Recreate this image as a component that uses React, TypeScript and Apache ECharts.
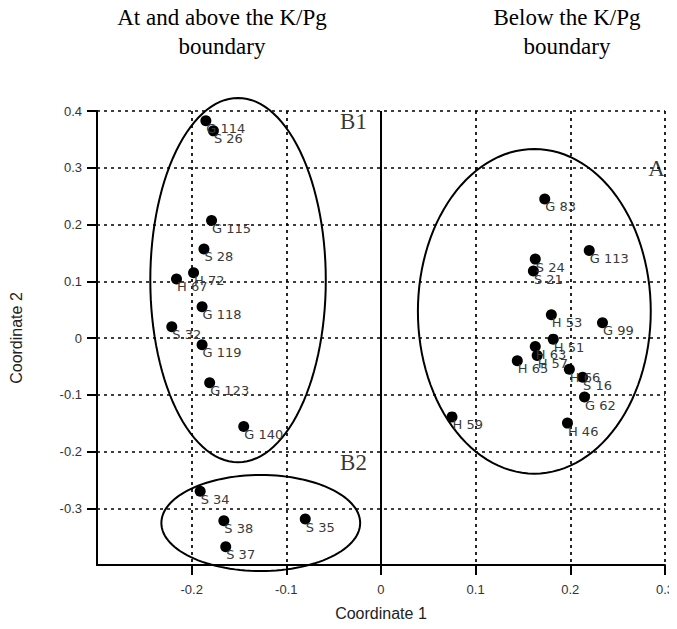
import React, { useEffect, useRef } from "react";
import * as echarts from "echarts";

// Sample names and PCoA coordinates
const names = [
  "G 114", "S 26", "G 115", "S 28", "H 72", "H 67", "G 118", "S 32", "G 119", "G 123", "G 140",
  "S 34", "S 38", "S 35", "S 37",
  "G 83", "G 113", "S 24", "S 21", "H 53", "G 99", "H 51", "H 63", "H 57", "H 65", "H 66", "S 16", "G 62", "H 59", "H 46",
];
const coord1 = [
  -0.185, -0.177, -0.179, -0.187, -0.198, -0.216, -0.189, -0.221, -0.189, -0.181, -0.145,
  -0.191, -0.166, -0.080, -0.164,
  0.173, 0.220, 0.163, 0.161, 0.180, 0.234, 0.182, 0.163, 0.165, 0.144, 0.199, 0.213, 0.215, 0.075, 0.197,
];
const coord2 = [
  0.383, 0.365, 0.207, 0.157, 0.115, 0.104, 0.055, 0.020, -0.012, -0.079, -0.156,
  -0.270, -0.322, -0.319, -0.368,
  0.245, 0.154, 0.139, 0.118, 0.041, 0.027, -0.002, -0.015, -0.031, -0.040, -0.055, -0.069, -0.104, -0.139, -0.150,
];

// Group ellipses: centre x, centre y, radius x, radius y (data units)
const ellipseNames = ["B1", "B2", "A"];
const ellipseCx = [-0.151, -0.127, 0.162];
const ellipseCy = [0.102, -0.326, 0.047];
const ellipseRx = [0.0927, 0.105, 0.123];
const ellipseRy = [0.321, 0.0846, 0.286];
// Group label anchors
const groupLabelX = [-0.029, -0.029, 0.291];
const groupLabelY = [0.382, -0.220, 0.298];

const xTicks = [-0.2, -0.1, 0, 0.1, 0.2, 0.3];
const yTicks = [-0.3, -0.2, -0.1, 0, 0.1, 0.2, 0.3, 0.4];

const titleLeft = "At and above the K/Pg\nboundary";
const titleRight = "Below the K/Pg\nboundary";

const fmt = (v: number) => (Math.abs(v) < 1e-9 ? "0" : v.toFixed(1));

export default function App() {
  const ref = useRef<HTMLDivElement>(null);
  useEffect(() => {
    if (!ref.current) return;
    const chart = echarts.init(ref.current, undefined, { renderer: "svg" });
    const points = names.map((n, i) => ({ name: n, value: [coord1[i], coord2[i]] }));
    const ellipses = ellipseNames.map((n, i) => ({
      name: n,
      value: [ellipseCx[i], ellipseCy[i], ellipseRx[i], ellipseRy[i]],
    }));
    const groupLabels = ellipseNames.map((n, i) => ({ name: n, value: [groupLabelX[i], groupLabelY[i]] }));
    const axisLabelStyle = {
      fontFamily: "Liberation Sans",
      fontSize: 13,
      color: "#333",
    };
    const splitLine = {
      show: true,
      lineStyle: { color: "#000", type: [3, 4] as any, width: 1.7 },
    };
    const titleStyle = {
      textAlign: "center",
      textVerticalAlign: "top",
      fontFamily: "Liberation Serif",
      fontSize: 23,
      lineHeight: 29,
      fill: "#000",
    };
    chart.setOption({
      animation: false,
      backgroundColor: "#fff",
      grid: { left: 95, right: 10, top: 111, bottom: 64, containLabel: false },
      graphic: [
        { type: "text", x: 222, y: 3, style: { text: titleLeft, ...titleStyle } },
        { type: "text", x: 567, y: 3, style: { text: titleRight, ...titleStyle } },
      ],
      xAxis: {
        type: "value",
        min: -0.3,
        max: 0.3,
        interval: 0.1,
        name: "Coordinate 1",
        nameLocation: "middle",
        nameGap: 40,
        nameTextStyle: { fontFamily: "Liberation Sans", fontSize: 16, color: "#222" },
        axisLine: { show: true, onZero: false, lineStyle: { color: "#000", width: 2 } },
        axisTick: { show: true, inside: false, length: 10, customValues: xTicks, lineStyle: { color: "#000", width: 2 } },
        axisLabel: { margin: 18, customValues: xTicks, formatter: (v: number) => fmt(v), ...axisLabelStyle },
        splitLine,
      },
      yAxis: {
        type: "value",
        min: -0.4,
        max: 0.4,
        interval: 0.1,
        name: "Coordinate 2",
        nameLocation: "middle",
        nameRotate: 90,
        nameGap: 73,
        nameTextStyle: { fontFamily: "Liberation Sans", fontSize: 16, color: "#222" },
        axisLine: { show: true, onZero: false, lineStyle: { color: "#000", width: 2 } },
        axisTick: { show: true, inside: false, length: 10, customValues: yTicks, lineStyle: { color: "#000", width: 2 } },
        axisLabel: { margin: 15, customValues: yTicks, formatter: (v: number) => fmt(v), ...axisLabelStyle },
        splitLine,
      },
      series: [
        {
          type: "custom",
          name: "groups",
          clip: false,
          silent: true,
          z: 3,
          data: ellipses,
          renderItem: (params: any, api: any) => {
            const cx = api.value(0);
            const cy = api.value(1);
            const rx = api.value(2);
            const ry = api.value(3);
            const pts: number[][] = [];
            for (let k = 0; k < 120; k++) {
              const t = (k / 120) * Math.PI * 2;
              pts.push(api.coord([cx + rx * Math.cos(t), cy + ry * Math.sin(t)]));
            }
            return {
              type: "polygon",
              shape: { points: pts },
              style: { fill: "none", stroke: "#000", lineWidth: 2 },
            };
          },
        },
        {
          type: "scatter",
          name: "zero",
          data: [],
          silent: true,
          markLine: {
            silent: true,
            symbol: "none",
            label: { show: false },
            lineStyle: { color: "#000", width: 2, type: "solid", opacity: 1 },
            data: [{ xAxis: 0 }],
          },
        },
        {
          type: "scatter",
          name: "samples",
          z: 5,
          symbol: "circle",
          symbolSize: 11,
          itemStyle: { color: "#000", opacity: 1 },
          data: points,
          label: {
            show: true,
            formatter: (p: any) => p.name,
            position: [6, 7],
            align: "left",
            verticalAlign: "top",
            fontFamily: "DejaVu Sans",
            fontSize: 13,
            color: "#3a3a3a",
          },
        },
        {
          type: "scatter",
          name: "groupLabels",
          symbolSize: 0,
          silent: true,
          z: 6,
          data: groupLabels,
          label: {
            show: true,
            position: "inside",
            formatter: (p: any) => p.name,
            fontFamily: "Liberation Serif",
            fontSize: 23,
            color: "#000",
          },
        },
      ],
    });
    return () => chart.dispose();
  }, []);
  return <div ref={ref} style={{ width: 677, height: 629, margin: -8 }} />;
}
